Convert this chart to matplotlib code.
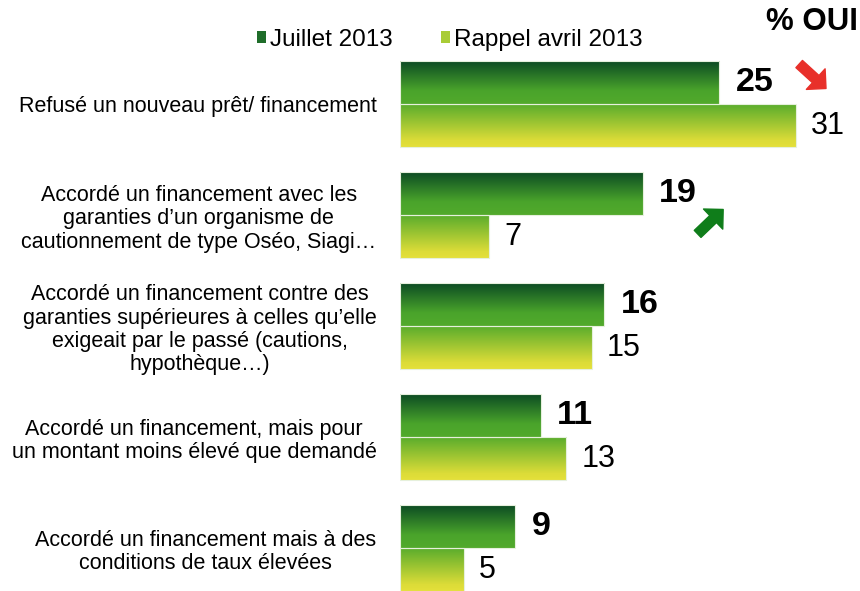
import numpy as np
import matplotlib.pyplot as plt
from matplotlib.colors import LinearSegmentedColormap
from matplotlib.patches import Patch

plt.rcParams['font.family'] = ['Liberation Sans', 'DejaVu Sans']

categories = [
    "Refusé un nouveau prêt/ financement",
    "Accordé un financement avec les\ngaranties d\u2019un organisme de\ncautionnement de type Oséo, Siagi\u2026",
    "Accordé un financement contre des\ngaranties supérieures à celles qu\u2019elle\nexigeait par le passé (cautions,\nhypothèque\u2026)",
    "Accordé un financement, mais pour\nun montant moins élevé que demandé",
    "Accordé un financement mais à des\nconditions de taux élevées",
]
juillet = [25, 19, 16, 11, 9]
avril = [31, 7, 15, 13, 5]
series_names = ["Juillet 2013", "Rappel avril 2013"]

# trend arrows (tail, head) in data coords, colour
arrows = [
    ((31.25, -0.36), (33.35, -0.14), '#e8302a'),
    ((23.3, 1.17), (25.3, 0.95), '#0f7d1a'),
]

dark_cmap = LinearSegmentedColormap.from_list(
    'dark', [(0, '#0a4823'), (0.7, '#4aa42b'), (1, '#52aa2c')])
light_cmap = LinearSegmentedColormap.from_list(
    'light', [(0, '#56ab2c'), (0.85, '#dcdc38'), (1, '#e4e03a')])

fig = plt.figure(figsize=(8.6, 5.91), dpi=100)
ax = fig.add_axes([400 / 860, 0, 460 / 860, 1])

y = np.arange(len(categories))
off = 0.195
h = 0.39
grad = np.linspace(0, 1, 256).reshape(-1, 1)


def gradient_bars(ypos, vals, cmap):
    bars = ax.barh(ypos, vals, height=h, facecolor='none',
                   edgecolor='#e6f0dc', linewidth=0.8, zorder=3)
    for b in bars:
        x0, y0 = b.get_x(), b.get_y()
        im = ax.imshow(grad, cmap=cmap, aspect='auto', origin='upper',
                       extent=[x0, x0 + b.get_width(), y0 + b.get_height(), y0],
                       zorder=2)
        im.set_clip_path(b)
    return bars


gradient_bars(y - off, juillet, dark_cmap)
gradient_bars(y + off, avril, light_cmap)

for i in range(len(categories)):
    ax.annotate(str(juillet[i]), (juillet[i], y[i] - off), xytext=(12, 0),
                textcoords='offset points', ha='left', va='center',
                fontsize=24.5, fontweight='bold', color='black')
    ax.annotate(str(avril[i]), (avril[i], y[i] + off), xytext=(11, 0),
                textcoords='offset points', ha='left', va='center',
                fontsize=22, color='black')

for tail, head, col in arrows:
    ax.annotate('', xy=head, xytext=tail,
                arrowprops=dict(arrowstyle='simple,head_length=1.0,head_width=2.0,tail_width=0.7',
                                color=col, shrinkA=0, shrinkB=0, mutation_scale=10))

ax.set_xlim(0, 460 / 12.774)
ax.set_ylim(4.387, -0.937)
ax.set_yticks(y)
ax.set_yticklabels(categories, fontsize=15.5, multialignment='center', linespacing=1.15)
ax.tick_params(axis='y', length=0, pad=17)
ax.set_xticks([])
for s in ax.spines.values():
    s.set_visible(False)

handles = [Patch(facecolor='#1f6d2a'), Patch(facecolor='#a9cc36')]
fig.legend(handles, series_names, loc='center left',
           bbox_to_anchor=(257 / 860, 1 - 40 / 591), ncol=2, frameon=False,
           fontsize=17.5, handlelength=0.37, handleheight=0.37,
           handletextpad=0.16, columnspacing=2.0, borderpad=0, borderaxespad=0)

fig.text(858 / 860, 1 - 22 / 591, '% OUI', ha='right', va='center',
         fontsize=22.5, fontweight='bold')

fig.savefig('out.png', dpi=100)
